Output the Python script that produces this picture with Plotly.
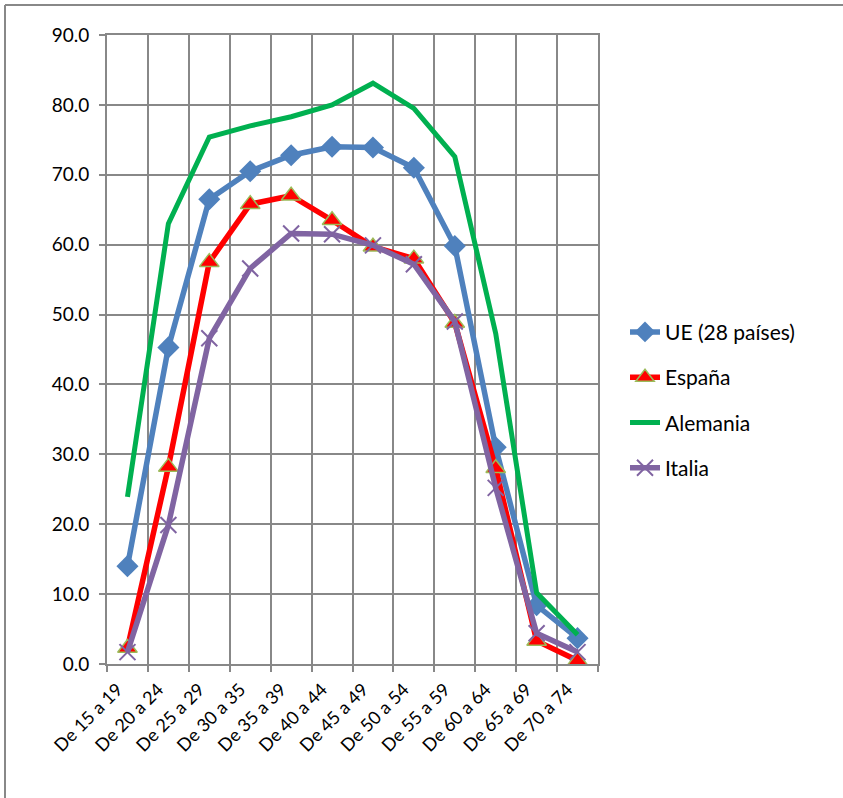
import plotly.graph_objects as go

categories = ["De 15 a 19", "De 20 a 24", "De 25 a 29", "De 30 a 35", "De 35 a 39", "De 40 a 44",
              "De 45 a 49", "De 50 a 54", "De 55 a 59", "De 60 a 64", "De 65 a 69", "De 70 a 74"]
ue = [14.0, 45.3, 66.5, 70.5, 72.8, 74.0, 73.9, 71.0, 59.8, 31.0, 8.4, 3.7]
espana = [2.3, 28.2, 57.5, 65.8, 67.0, 63.5, 59.7, 58.0, 48.8, 28.0, 3.3, 0.5]
alemania = [23.9, 63.0, 75.4, 77.0, 78.3, 80.0, 83.1, 79.5, 72.6, 47.3, 10.2, 4.2]
italia = [1.7, 19.9, 46.6, 56.6, 61.6, 61.5, 59.9, 57.2, 49.0, 25.2, 4.4, 1.7]
y_ticks = [0, 10, 20, 30, 40, 50, 60, 70, 80, 90]

FONT = "Lato"
GRID = "#888888"

fig = go.Figure()
fig.add_trace(go.Scatter(x=categories, y=ue, name="UE (28 países)", mode="lines+markers",
                         line=dict(color="#4F81BD", width=5.5),
                         marker=dict(symbol="diamond", size=17, color="#4F81BD"),
                         legendgroup="a"))
fig.add_trace(go.Scatter(x=categories, y=espana, name="España", mode="lines+markers",
                         line=dict(color="#FF0000", width=5.5),
                         marker=dict(symbol="triangle-up", size=17, color="#FF0000",
                                     line=dict(color="#9BBB59", width=1.5)),
                         legendgroup="b"))
fig.add_trace(go.Scatter(x=categories, y=alemania, name="Alemania", mode="lines",
                         line=dict(color="#00B050", width=5),
                         legendgroup="c"))
fig.add_trace(go.Scatter(x=categories, y=italia, name="Italia", mode="lines+markers",
                         line=dict(color="#8064A2", width=5.5),
                         marker=dict(symbol="x-thin", size=16, color="#8064A2",
                                     line=dict(color="#8064A2", width=2)),
                         legendgroup="d"))

fig.update_layout(
    width=843, height=798,
    margin=dict(l=107, r=245, t=35, b=134),
    paper_bgcolor="white", plot_bgcolor="white",
    font=dict(family=FONT, size=18, color="#000000"),
    showlegend=True,
    legend=dict(x=1.055, y=0.56, xanchor="left", yanchor="top",
                font=dict(family=FONT, size=21), tracegroupgap=15,
                bgcolor="rgba(0,0,0,0)"),
    xaxis=dict(type="category", range=[-0.5, 11.5], tickson="boundaries",
               showgrid=True, gridcolor=GRID, gridwidth=2,
               showline=True, linecolor=GRID, linewidth=2, mirror=True,
               ticks="outside", ticklen=6, tickcolor=GRID, tickwidth=2,
               tickangle=-45, tickfont=dict(family=FONT, size=18), zeroline=False,
               ticklabelstandoff=6, ticklabelshift=-10),
    yaxis=dict(range=[0, 90], tickvals=y_ticks, tickformat=".1f",
               showgrid=True, gridcolor=GRID, gridwidth=2,
               showline=True, linecolor=GRID, linewidth=2, mirror=True,
               ticks="outside", ticklen=6, tickcolor=GRID, tickwidth=2,
               tickfont=dict(family=FONT, size=19), zeroline=False,
               ticklabelstandoff=6),
)

# outer chart-area border (top and left edges visible)
fig.add_shape(type="line", xref="paper", yref="paper",
              x0=-102/491, x1=(843 - 107) / 491, y0=(664 - 5) / 629, y1=(664 - 5) / 629,
              line=dict(color=GRID, width=2))
fig.add_shape(type="line", xref="paper", yref="paper",
              x0=-102/491, x1=-102/491, y0=(664 - 5) / 629, y1=(664 - 800) / 629,
              line=dict(color=GRID, width=2))

fig.write_html("out.html")
